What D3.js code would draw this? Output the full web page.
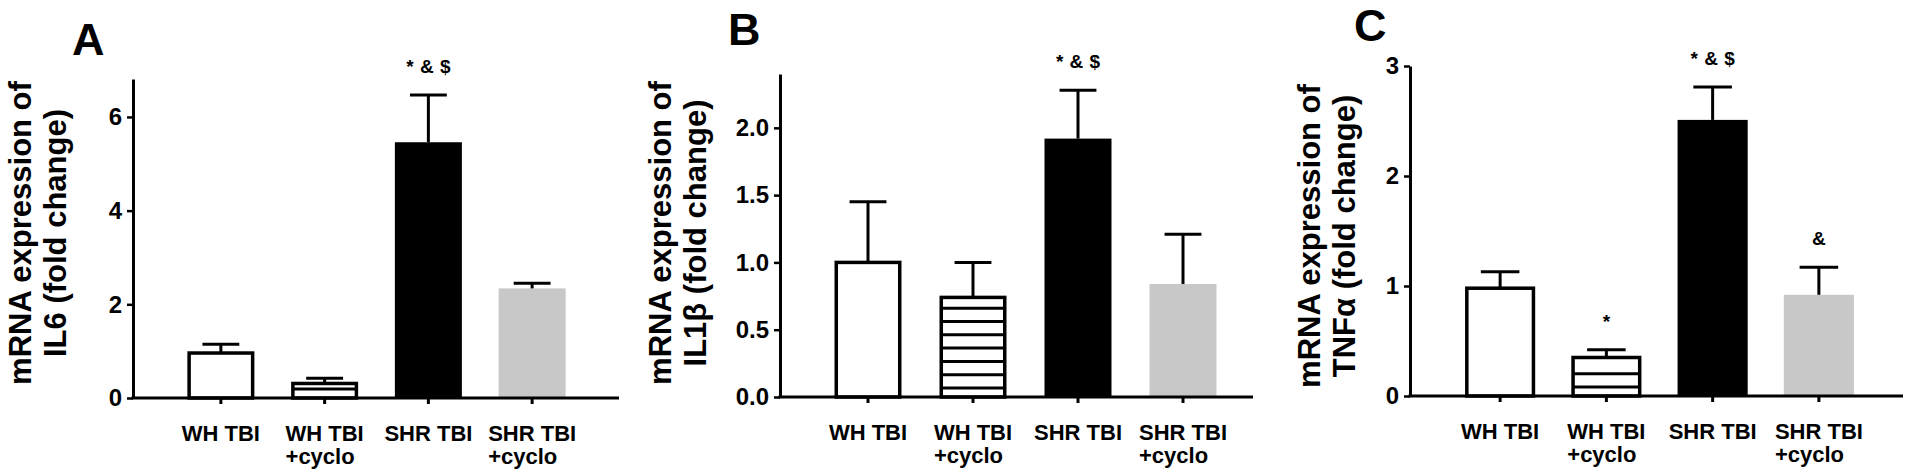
<!DOCTYPE html>
<html>
<head>
<meta charset="utf-8">
<script src="https://cdn.jsdelivr.net/npm/d3@7"></script>
<style>
  html, body { margin: 0; padding: 0; background: #fff; }
  svg { display: block; }
</style>
</head>
<body>
<svg id="chart" width="1906" height="473"></svg>
<script>
// groups on the x axis (\n = second line of the label)
const groups = ["WH TBI", "WH TBI\n+cyclo", "SHR TBI", "SHR TBI\n+cyclo"];

// A - IL6
const il6Mean = [0.96, 0.31, 5.46, 2.34];
const il6Sem  = [0.19, 0.11, 1.01, 0.11];
const il6Ticks = [0, 2, 4, 6];
const il6Marks = ["", "", "* & $", ""];

// B - IL1b
const il1bMean = [1.0, 0.74, 1.92, 0.84];
const il1bSem  = [0.45, 0.26, 0.36, 0.37];
const il1bTicks = [0, 0.5, 1.0, 1.5, 2.0];
const il1bMarks = ["", "", "* & $", ""];

// C - TNFa
const tnfMean = [0.98, 0.35, 2.51, 0.92];
const tnfSem  = [0.15, 0.07, 0.30, 0.25];
const tnfTicks = [0, 1, 2, 3];
const tnfMarks = ["", "*", "* & $", "&"];

const barStyles = ["open", "stripe", "black", "gray"];

const FONT = '"Liberation Sans", Arial, Helvetica, sans-serif';

const panels = [
  {letter: "A", gene: "IL6", mean: il6Mean, sem: il6Sem, ticks: il6Ticks, marks: il6Marks,
   fmt: d3.format("d"), yMax: 6.81, axisX: 133, top: 79, bottom: 398, lineEnd: 619,
   band: [169, 584], pad: 0.354, letterX: 72, letterY: 55, labelX: 31, labelY: 233},
  {letter: "B", gene: "IL1\u03b2", mean: il1bMean, sem: il1bSem, ticks: il1bTicks, marks: il1bMarks,
   fmt: d3.format(".1f"), yMax: 2.40, axisX: 780, top: 74, bottom: 397, lineEnd: 1253,
   band: [815.5, 1235.5], pad: 0.362, letterX: 728, letterY: 45, labelX: 671, labelY: 233},
  {letter: "C", gene: "TNF\u03b1", mean: tnfMean, sem: tnfSem, ticks: tnfTicks, marks: tnfMarks,
   fmt: d3.format("d"), yMax: 3, axisX: 1410, top: 66, bottom: 396, lineEnd: 1903,
   band: [1447, 1872], pad: 0.34, letterX: 1354, letterY: 41, labelX: 1320, labelY: 236}
];

const svg = d3.select('#chart')
  .attr('font-family', FONT)
  .attr('font-weight', 'bold');

const sw = 3.5;        // outline of the open bars
const stripeGap = 13.3;

panels.forEach(p => {
  const g = svg.append('g');

  const x = d3.scaleBand()
    .domain(groups)
    .range(p.band)
    .paddingInner(p.pad)
    .paddingOuter(p.pad / 2);

  const y = d3.scaleLinear()
    .domain([0, p.yMax])
    .range([p.bottom, p.top]);

  const rows = groups.map((c, i) => ({c, m: p.mean[i], s: p.sem[i], style: barStyles[i], mark: p.marks[i]}));
  const bw = x.bandwidth();

  // bars
  g.selectAll('rect.bar')
    .data(rows)
    .enter()
    .append('rect')
      .attr('class', 'bar')
      .attr('x', d => d.style === 'open' || d.style === 'stripe' ? x(d.c) + sw / 2 : x(d.c))
      .attr('width', d => d.style === 'open' || d.style === 'stripe' ? bw - sw : bw)
      .attr('y', d => y(d.m))
      .attr('height', d => y(0) - y(d.m))
      .attr('fill', d => d.style === 'black' ? '#000' : d.style === 'gray' ? '#c8c8c8' : '#fff')
      .attr('stroke', d => d.style === 'open' || d.style === 'stripe' ? '#000' : 'none')
      .attr('stroke-width', sw);

  // horizontal stripes of the cyclo bar
  rows.filter(d => d.style === 'stripe').forEach(d => {
    const ys = d3.range(y(0) - 9, y(d.m) + 4, -stripeGap);
    g.selectAll(null)
      .data(ys)
      .enter()
      .append('line')
        .attr('x1', x(d.c) + sw / 2)
        .attr('x2', x(d.c) + bw - sw / 2)
        .attr('y1', v => v)
        .attr('y2', v => v)
        .attr('stroke', '#000')
        .attr('stroke-width', 3);
  });

  // error bars (upper only)
  const capW = bw * 0.55;
  const err = g.selectAll('g.err')
    .data(rows)
    .enter()
    .append('g')
      .attr('class', 'err')
      .attr('stroke', '#000')
      .attr('stroke-width', 3);
  err.append('line')
    .attr('x1', d => x(d.c) + bw / 2)
    .attr('x2', d => x(d.c) + bw / 2)
    .attr('y1', d => y(d.m))
    .attr('y2', d => y(d.m + d.s));
  err.append('line')
    .attr('x1', d => x(d.c) + bw / 2 - capW / 2)
    .attr('x2', d => x(d.c) + bw / 2 + capW / 2)
    .attr('y1', d => y(d.m + d.s))
    .attr('y2', d => y(d.m + d.s));

  // significance marks
  g.selectAll('text.mark')
    .data(rows.filter(d => d.mark))
    .enter()
    .append('text')
      .attr('class', 'mark')
      .attr('x', d => x(d.c) + bw / 2)
      .attr('y', d => y(d.m + d.s) - 22)
      .attr('text-anchor', 'middle')
      .attr('font-size', 19)
      .attr('word-spacing', 1)
      .text(d => d.mark);

  // y axis
  const yAxis = d3.axisLeft(y)
    .tickValues(p.ticks)
    .tickFormat(p.fmt)
    .tickSize(6)
    .tickSizeOuter(0)
    .tickPadding(5);
  const yg = g.append('g')
    .attr('transform', `translate(${p.axisX},0)`)
    .call(yAxis);
  yg.attr('font-family', FONT).attr('font-size', 24).attr('font-weight', 'bold');
  yg.select('.domain').attr('stroke-width', 3);
  yg.selectAll('.tick line').attr('stroke-width', 2.5);
  yg.selectAll('.tick text').attr('fill', '#000');

  // x axis
  const xAxis = d3.axisBottom(x).tickSize(6).tickSizeOuter(0);
  const xg = g.append('g')
    .attr('transform', `translate(0,${p.bottom})`)
    .call(xAxis);
  xg.select('.domain').remove();
  xg.attr('font-family', FONT).attr('font-size', 22).attr('font-weight', 'bold');
  xg.selectAll('.tick line').attr('stroke-width', 3);
  xg.selectAll('.tick text').each(function(d) {
    const t = d3.select(this);
    const lines = d.split('\n');
    t.text(null).attr('y', 43).attr('dy', null).attr('fill', '#000').attr('text-anchor', 'start');
    const first = t.append('tspan').attr('x', 0).text(lines[0]);
    const w = first.node().getComputedTextLength();
    first.attr('x', -w / 2);
    lines.slice(1).forEach(l => t.append('tspan').attr('x', -w / 2).attr('dy', 23).text(l));
  });
  g.append('line')
    .attr('x1', p.axisX - 1.5)
    .attr('x2', p.lineEnd)
    .attr('y1', y(0))
    .attr('y2', y(0))
    .attr('stroke', '#000')
    .attr('stroke-width', 3);

  // y label, two lines
  const lab = g.append('text')
    .attr('transform', `translate(${p.labelX},${p.labelY}) rotate(-90)`)
    .attr('text-anchor', 'middle')
    .attr('font-size', 31);
  lab.append('tspan').attr('x', 0).text('mRNA expression of');
  lab.append('tspan').attr('x', 0).attr('dy', 35).text(`${p.gene} (fold change)`);

  // panel letter
  g.append('text')
    .attr('x', p.letterX)
    .attr('y', p.letterY)
    .attr('font-size', 45)
    .text(p.letter);
});
</script>
</body>
</html>
